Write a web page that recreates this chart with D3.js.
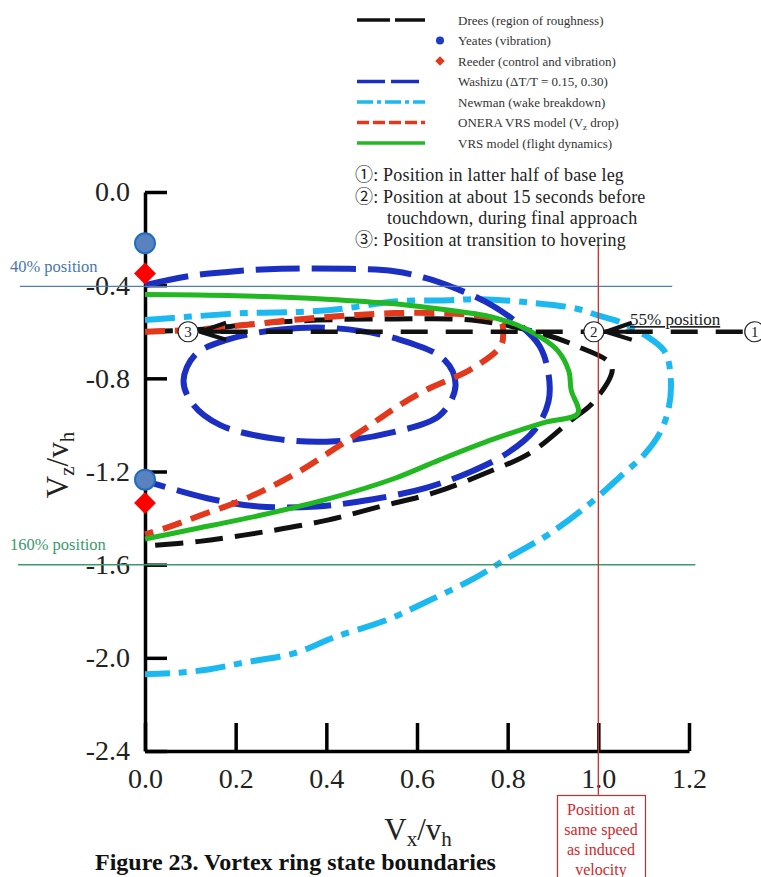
<!DOCTYPE html>
<html>
<head>
<meta charset="utf-8">
<script src="https://cdn.jsdelivr.net/npm/d3@7"></script>
<style>
  body { margin: 0; background: #fff; }
  svg { display: block; }
</style>
</head>
<body>
<svg id="chart" width="761" height="877"></svg>
<script>
// boundary curves, [Vx/vh, Vz/vh]
const drees = [[0, -0.6], [0.12, -0.59], [0.25, -0.565], [0.38, -0.55], [0.55, -0.545], [0.72, -0.55],
  [0.86, -0.6], [0.95, -0.66], [1.03, -0.75], [0.99, -0.9], [0.94, -0.98], [0.85, -1.12], [0.76, -1.2],
  [0.64, -1.29], [0.52, -1.35], [0.4, -1.41], [0.26, -1.46], [0.12, -1.5], [0, -1.52]];
const washizuOuter = [[0, -0.4], [0.1, -0.36], [0.2, -0.34], [0.3, -0.33], [0.45, -0.33], [0.55, -0.34],
  [0.62, -0.37], [0.68, -0.41], [0.75, -0.47], [0.82, -0.56], [0.87, -0.66], [0.89, -0.78], [0.89, -0.9],
  [0.86, -1.02], [0.8, -1.12], [0.72, -1.2], [0.62, -1.27], [0.5, -1.32], [0.38, -1.35], [0.25, -1.35],
  [0.15, -1.32], [0.07, -1.28], [0, -1.24]];
const washizuInner = [[0.18, -0.635], [0.3, -0.59], [0.42, -0.585], [0.556, -0.63], [0.66, -0.72],
  [0.685, -0.83], [0.65, -0.96], [0.55, -1.03], [0.42, -1.07], [0.29, -1.06], [0.165, -1.0],
  [0.105, -0.91], [0.085, -0.81], [0.11, -0.7]];
const newman = [[0, -0.55], [0.1, -0.535], [0.22, -0.52], [0.34, -0.515], [0.44, -0.5], [0.55, -0.47],
  [0.67, -0.465], [0.74, -0.46], [0.85, -0.475], [0.95, -0.5], [1.0, -0.53], [1.05, -0.56], [1.115, -0.63],
  [1.148, -0.69], [1.16, -0.81], [1.155, -0.93], [1.137, -1.03], [1.1, -1.13], [1.055, -1.21], [0.98, -1.34],
  [0.89, -1.47], [0.81, -1.56], [0.725, -1.66], [0.62, -1.76], [0.53, -1.84], [0.42, -1.91], [0.33, -1.98],
  [0.22, -2.02], [0.14, -2.05], [0.066, -2.065], [0, -2.07]];
const onera = [[0, -0.6], [0.12, -0.59], [0.25, -0.565], [0.35, -0.545], [0.45, -0.53], [0.55, -0.52],
  [0.65, -0.52], [0.73, -0.53], [0.785, -0.555], [0.79, -0.6], [0.785, -0.66], [0.72, -0.76], [0.62, -0.85],
  [0.55, -0.93], [0.49, -1.01], [0.42, -1.1], [0.34, -1.2], [0.23, -1.31], [0.12, -1.39],
  [0.05, -1.44], [0, -1.47]];
const vrsModel = [[0, -0.44], [0.2, -0.445], [0.4, -0.46], [0.55, -0.48], [0.68, -0.51], [0.75, -0.53],
  [0.82, -0.57], [0.87, -0.62], [0.91, -0.68], [0.935, -0.77], [0.94, -0.85], [0.955, -0.95], [0.88, -0.99],
  [0.77, -1.06], [0.65, -1.15], [0.55, -1.23], [0.4, -1.32], [0.25, -1.39], [0.1, -1.45], [0, -1.49]];
const yeates = [[0, -0.22], [0, -1.235]];
const reeder = [[0, -0.35], [0, -1.335]];

const xTicks = [0, 0.2, 0.4, 0.6, 0.8, 1.0, 1.2];
const yTicks = [0, -0.4, -0.8, -1.2, -1.6, -2.0, -2.4];

const legendLabels = ["Drees (region of roughness)", "Yeates (vibration)", "Reeder (control and vibration)",
  "Washizu (\u0394T/T = 0.15, 0.30)", "Newman (wake breakdown)", "ONERA VRS model (V|z drop)",
  "VRS model (flight dynamics)"];
const legendKeys = ["drees", "yeates", "reeder", "washizu", "newman", "onera", "vrs"];

const notes = ["\u2460: Position in latter half of base leg", "\u2461: Position at about 15 seconds before",
  "touchdown, during final approach", "\u2462: Position at transition to hovering"];
const boxLines = ["Position at", "same speed", "as induced", "velocity"];

// flight path annotation points (data coords)
const path1 = [1.345, -0.6], path2 = [0.99, -0.6], path3 = [0.095, -0.6];

const serif = "'Liberation Serif', 'Noto Sans CJK JP', serif";

const svg = d3.select("svg#chart");
const x = d3.scaleLinear().domain([0, 1.2]).range([145, 689]);
const y = d3.scaleLinear().domain([0, -2.4]).range([192, 751]);

const style = {
  drees: { stroke: "#111", width: 5, dash: "28,12" },
  washizu: { stroke: "#1b30c2", width: 6, dash: "44,12" },
  newman: { stroke: "#1cb9f0", width: 6, dash: "30,9,8,9" },
  onera: { stroke: "#e4381c", width: 6, dash: "20,10" },
  vrs: { stroke: "#22b822", width: 5, dash: null }
};

const line = d3.line().x(d => x(d[0])).y(d => y(d[1])).curve(d3.curveCatmullRom.alpha(0.5));
const closed = d3.line().x(d => x(d[0])).y(d => y(d[1])).curve(d3.curveCatmullRomClosed.alpha(0.5));

// axes
const yAxis = svg.append("g")
  .attr("transform", `translate(${x(0)},0)`)
  .call(d3.axisLeft(y).tickValues(yTicks).tickFormat(d => d.toFixed(1))
    .tickSizeInner(-22).tickSizeOuter(0).tickPadding(15));
const xAxis = svg.append("g")
  .attr("transform", `translate(0,${y(-2.4)})`)
  .call(d3.axisBottom(x).tickValues(xTicks).tickFormat(d => d.toFixed(1))
    .tickSizeInner(-28).tickSizeOuter(0).tickPadding(17));
[yAxis, xAxis].forEach(g => {
  g.select(".domain").attr("stroke", "#000").attr("stroke-width", 3.5);
  g.selectAll(".tick line").attr("stroke", "#000").attr("stroke-width", 3.5);
  g.selectAll(".tick text").attr("font-family", serif).attr("font-size", 28).attr("fill", "#222");
});

// curves
const curves = [
  { key: "newman", data: newman, gen: line },
  { key: "drees", data: drees, gen: line },
  { key: "washizu", data: washizuOuter, gen: line },
  { key: "washizu", data: washizuInner, gen: closed },
  { key: "onera", data: onera, gen: line },
  { key: "vrs", data: vrsModel, gen: line }
];
svg.append("g").selectAll("path")
  .data(curves)
  .join("path")
    .attr("d", d => d.gen(d.data))
    .attr("fill", "none")
    .attr("stroke", d => style[d.key].stroke)
    .attr("stroke-width", d => style[d.key].width)
    .attr("stroke-dasharray", d => style[d.key].dash)
    .attr("stroke-linejoin", "round");

// reference lines
const refs = svg.append("g");
refs.append("line")
  .attr("x1", x(-0.276)).attr("x2", x(1.163)).attr("y1", y(-0.405)).attr("y2", y(-0.405))
  .attr("stroke", "#4f7fb2").attr("stroke-width", 1.3);
refs.append("text").attr("x", 10).attr("y", y(-0.405) - 14)
  .attr("font-family", serif).attr("font-size", 16.5).attr("fill", "#4a78aa").text("40% position");
refs.append("line")
  .attr("x1", x(-0.28)).attr("x2", x(1.214)).attr("y1", y(-1.6)).attr("y2", y(-1.6))
  .attr("stroke", "#3a9a6c").attr("stroke-width", 1.5);
refs.append("text").attr("x", 10).attr("y", y(-1.6) - 15)
  .attr("font-family", serif).attr("font-size", 16.5).attr("fill", "#3a9a6c").text("160% position");
refs.append("line")
  .attr("x1", x(1.0)).attr("x2", x(1.0)).attr("y1", y(-0.227)).attr("y2", y(-2.588))
  .attr("stroke", "#c8302c").attr("stroke-width", 1.3);

// markers
svg.append("g").selectAll("circle")
  .data(yeates)
  .join("circle")
    .attr("cx", d => x(d[0])).attr("cy", d => y(d[1])).attr("r", 10)
    .attr("fill", "#5a82c0").attr("stroke", "#1f6ec0").attr("stroke-width", 2);
svg.append("g").selectAll("path")
  .data(reeder)
  .join("path")
    .attr("d", d3.symbol(d3.symbolSquare, 240))
    .attr("transform", d => `translate(${x(d[0])},${y(d[1])}) rotate(45)`)
    .attr("fill", "#ff0000");

// flight path annotation
const ann = svg.append("g");
ann.append("line")
  .attr("x1", x(path1[0]) - 12).attr("x2", x(path3[0]) + 12)
  .attr("y1", y(path1[1])).attr("y2", y(path1[1]))
  .attr("stroke", "#111").attr("stroke-width", 4.5).attr("stroke-dasharray", "27,18");
[path2, path3].forEach(p => {
  const tx = x(p[0]) + 12, ty = y(p[1]);
  ann.append("path")
    .attr("d", `M${tx + 26},${ty - 9}L${tx},${ty}L${tx + 26},${ty + 8}M${tx},${ty}H${tx + 28}`)
    .attr("fill", "none").attr("stroke", "#111").attr("stroke-width", 4)
    .attr("stroke-linejoin", "round");
});
[[path1, "1"], [path2, "2"], [path3, "3"]].forEach(([p, lab]) => {
  ann.append("circle").attr("cx", x(p[0])).attr("cy", y(p[1])).attr("r", 10)
    .attr("fill", "#fff").attr("stroke", "#222").attr("stroke-width", 1.2);
  ann.append("text").attr("x", x(p[0])).attr("y", y(p[1]) + 5)
    .attr("text-anchor", "middle").attr("font-family", serif).attr("font-size", 15)
    .attr("fill", "#222").text(lab);
});
ann.append("text").attr("x", 630).attr("y", 325)
  .attr("font-family", serif).attr("font-size", 17).attr("fill", "#222")
  .attr("text-decoration", "underline").text("55% position");

// notes
svg.append("g").selectAll("text")
  .data(notes)
  .join("text")
    .attr("x", (d, i) => i === 2 ? 387 : 355)
    .attr("y", (d, i) => 181 + i * 21.5)
    .attr("font-family", serif).attr("font-size", 18).attr("letter-spacing", 0.2).attr("fill", "#222")
    .text(d => d);

// red box
const box = svg.append("g");
box.append("rect").attr("x", 557.5).attr("y", 795.5).attr("width", 88).attr("height", 100)
  .attr("fill", "#fff").attr("stroke", "#d0282c").attr("stroke-width", 1.2);
box.selectAll("text")
  .data(boxLines)
  .join("text")
    .attr("x", 601).attr("y", (d, i) => 815 + i * 20)
    .attr("text-anchor", "middle").attr("font-family", serif).attr("font-size", 16)
    .attr("fill", "#d0282c").text(d => d);

// axis titles
const xt = svg.append("text").attr("x", 418).attr("y", 840).attr("text-anchor", "middle")
  .attr("font-family", serif).attr("font-size", 31).attr("fill", "#222");
xt.append("tspan").text("V");
xt.append("tspan").attr("font-size", 21).attr("dy", 6).text("x");
xt.append("tspan").attr("dy", -6).text("/v");
xt.append("tspan").attr("font-size", 21).attr("dy", 6).text("h");

const yt = svg.append("text").attr("transform", "translate(68,465) rotate(-90)")
  .attr("text-anchor", "middle").attr("font-family", serif).attr("font-size", 31).attr("fill", "#222");
yt.append("tspan").text("V");
yt.append("tspan").attr("font-size", 21).attr("dy", 6).text("z");
yt.append("tspan").attr("dy", -6).text("/v");
yt.append("tspan").attr("font-size", 21).attr("dy", 6).text("h");

// caption at the bottom edge
svg.append("text").attr("x", 95).attr("y", 870)
  .attr("font-family", serif).attr("font-size", 24).attr("font-weight", "bold").attr("fill", "#111")
  .text("Figure 23. Vortex ring state boundaries");

// legend
const legend = svg.append("g");
legendKeys.forEach((k, i) => {
  const ly = 20 + i * 20.5;
  if (style[k]) {
    const s = style[k];
    const legDash = { drees: "33,5", washizu: "28,6", newman: "16,4,4,4", onera: "12,4", vrs: null };
    legend.append("line").attr("x1", 357).attr("x2", 425).attr("y1", ly).attr("y2", ly)
      .attr("stroke", s.stroke).attr("stroke-width", 3.5).attr("stroke-dasharray", legDash[k]);
  } else if (k === "yeates") {
    legend.append("circle").attr("cx", 440).attr("cy", ly).attr("r", 4).attr("fill", "#1c3cc8");
  } else {
    legend.append("path").attr("d", d3.symbol(d3.symbolSquare, 45))
      .attr("transform", `translate(440,${ly}) rotate(45)`).attr("fill", "#e4381c");
  }
  const parts = legendLabels[i].split("|");
  const t = legend.append("text").attr("x", 458).attr("y", ly + 4.5)
    .attr("font-family", serif).attr("font-size", 13).attr("fill", "#333");
  if (parts.length === 1) {
    t.text(parts[0]);
  } else {
    t.append("tspan").text(parts[0]);
    t.append("tspan").attr("font-size", 9).attr("dy", 3).text(parts[1].charAt(0));
    t.append("tspan").attr("dy", -3).text(parts[1].slice(1));
  }
});
</script>
</body>
</html>
